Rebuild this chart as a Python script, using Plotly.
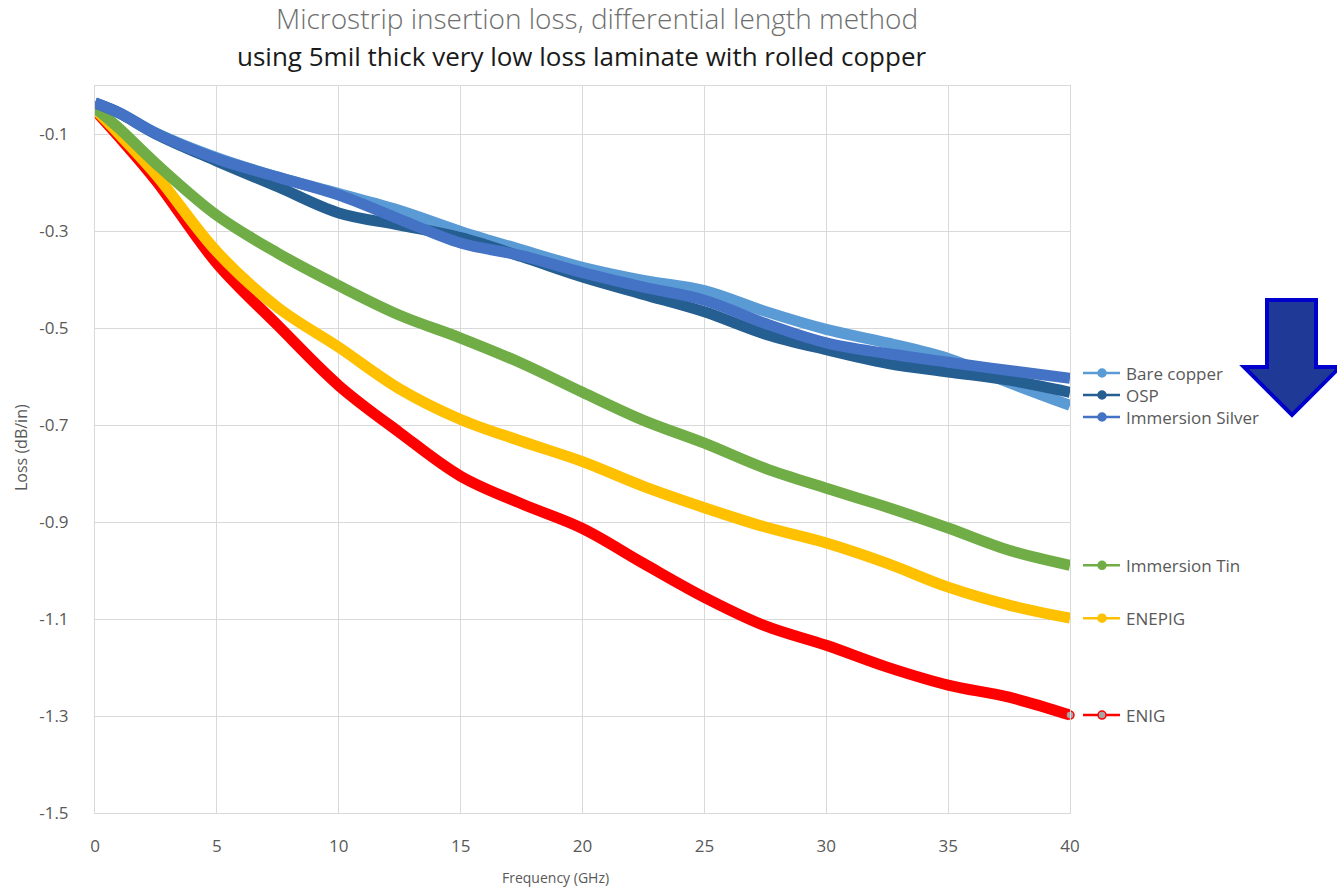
import plotly.graph_objects as go

# Frequency sweep (GHz)
freq = [0, 1, 2.5, 5, 7.5, 10, 12.5, 15, 17.5, 20, 22.5, 25, 27.5, 30, 32.5, 35, 37.5, 40]

# Insertion loss per finish (dB/in)
bare_copper = [-0.035, -0.055, -0.097, -0.148, -0.188, -0.222, -0.257, -0.300, -0.338, -0.374,
               -0.401, -0.422, -0.465, -0.502, -0.530, -0.562, -0.612, -0.659]
osp = [-0.035, -0.056, -0.099, -0.155, -0.208, -0.262, -0.287, -0.313, -0.352, -0.394,
       -0.430, -0.466, -0.512, -0.544, -0.572, -0.590, -0.607, -0.632]
immersion_silver = [-0.035, -0.056, -0.098, -0.150, -0.188, -0.225, -0.275, -0.324, -0.350, -0.385,
                    -0.415, -0.442, -0.490, -0.530, -0.552, -0.570, -0.587, -0.603]
immersion_tin = [-0.045, -0.088, -0.160, -0.267, -0.345, -0.412, -0.473, -0.520, -0.572, -0.632,
                 -0.690, -0.737, -0.789, -0.830, -0.869, -0.912, -0.958, -0.989]
enepig = [-0.048, -0.100, -0.183, -0.342, -0.457, -0.539, -0.625, -0.688, -0.733, -0.775,
          -0.826, -0.870, -0.910, -0.943, -0.985, -1.034, -1.071, -1.098]
enig = [-0.050, -0.106, -0.195, -0.366, -0.494, -0.618, -0.715, -0.805, -0.862, -0.913,
        -0.985, -1.055, -1.114, -1.154, -1.199, -1.236, -1.261, -1.298]

series_names = ["Bare copper", "OSP", "Immersion Silver", "Immersion Tin", "ENEPIG", "ENIG"]
series_values = [bare_copper, osp, immersion_silver, immersion_tin, enepig, enig]
series_colors = ["#5B9BD5", "#255E91", "#4472C4", "#70AD47", "#FFC000", "#FF0000"]

x_ticks = [0, 5, 10, 15, 20, 25, 30, 35, 40]
y_ticks = [-1.5, -1.3, -1.1, -0.9, -0.7, -0.5, -0.3, -0.1]
y_tick_text = ["-1.5", "-1.3", "-1.1", "-0.9", "-0.7", "-0.5", "-0.3", "-0.1"]

W, H = 1337, 888
L, R, T, B = 95, 1070, 86, 813
X0, X1 = 0, 40
Y0, Y1 = -1.5, 0.0


def px_x(p):
    return (p - L) / (R - L)


def px_y(p):
    return (B - p) / (B - T)


def px_to_val(p):
    return Y0 + (B - p) / (B - T) * (Y1 - Y0)


def val_to_py(v):
    return B - (v - Y0) / (Y1 - Y0) * (B - T)


GRID = "#D9D9D9"
TXT = "#595959"
FONT = "Open Sans"

fig = go.Figure()

# draw bottom-to-top so the blue group sits on top
order = [5, 4, 3, 0, 1, 2]
for i in order:
    fig.add_trace(go.Scatter(
        x=freq, y=series_values[i], mode="lines", name=series_names[i],
        line=dict(color=series_colors[i], width=11, shape="spline", smoothing=1.0),
        showlegend=False, hoverinfo="skip"))

# final ENIG point marker
fig.add_trace(go.Scatter(
    x=[freq[-1]], y=[enig[-1]], mode="markers", showlegend=False, hoverinfo="skip",
    marker=dict(size=8, color="#A5A5A5", line=dict(color="#FF0000", width=1.5)),
    cliponaxis=False))

# series labels at the end of each line; the blue group is stacked
label_vals = [s[-1] for s in series_values]
stack_top = px_to_val(373)
stack_step = px_to_val(373) - px_to_val(395)
for k in range(3):
    label_vals[k] = stack_top - k * stack_step

shapes = []
annotations = []
marker_fill = series_colors[:5] + ["#A5A5A5"]
for name, color, fill, yv in zip(series_names, series_colors, marker_fill, label_vals):
    yp = px_y(val_to_py(yv))
    shapes.append(dict(type="line", xref="paper", yref="paper", x0=px_x(1083), x1=px_x(1120),
                       y0=yp, y1=yp, line=dict(color=color, width=2.5)))
    shapes.append(dict(type="circle", xref="paper", yref="paper", xsizemode="pixel",
                       ysizemode="pixel", xanchor=px_x(1102), yanchor=yp,
                       x0=-4, x1=4, y0=-4, y1=4, fillcolor=fill,
                       line=dict(color=color, width=1.5)))
    annotations.append(dict(x=px_x(1124), xref="paper", y=yp, yref="paper", text=name,
                            showarrow=False, xanchor="left", yanchor="middle",
                            font=dict(family=FONT, size=17, color=TXT)))

# down arrow callout
pts = [(1267, 300), (1316, 300), (1316, 367), (1340, 367), (1292, 415), (1244, 367), (1267, 367)]
path = "M " + " L ".join(f"{px_x(a):.5f},{px_y(b):.5f}" for a, b in pts) + " Z"
shapes.append(dict(type="path", xref="paper", yref="paper", path=path,
                   fillcolor="#1F3A96", line=dict(color="#0000CD", width=4)))

# titles
annotations.append(dict(x=px_x(597), xref="paper", y=px_y(18), yref="paper",
                        text="Microstrip insertion loss, differential length method",
                        showarrow=False, xanchor="center", yanchor="middle",
                        font=dict(family=FONT, size=28, color="#6E6E6E", weight=300)))
annotations.append(dict(x=px_x(582), xref="paper", y=px_y(56), yref="paper",
                        text="using 5mil thick very low loss laminate with rolled copper",
                        showarrow=False, xanchor="center", yanchor="middle",
                        font=dict(family=FONT, size=26, color="#1A1A1A")))
annotations.append(dict(x=px_x(555), xref="paper", y=px_y(877), yref="paper",
                        text="Frequency (GHz)", showarrow=False,
                        xanchor="center", yanchor="middle",
                        font=dict(family=FONT, size=14, color=TXT)))
annotations.append(dict(x=px_x(21), xref="paper", y=px_y(448), yref="paper",
                        text="Loss (dB/in)", showarrow=False, textangle=-90,
                        xanchor="center", yanchor="middle",
                        font=dict(family=FONT, size=16, color=TXT)))

fig.update_layout(
    width=W, height=H,
    margin=dict(l=L, r=W - R, t=T, b=H - B),
    paper_bgcolor="white", plot_bgcolor="white",
    shapes=shapes, annotations=annotations,
    xaxis=dict(range=[X0, X1], tickvals=x_ticks, showgrid=True, gridcolor=GRID, gridwidth=1,
               zeroline=False, showline=True, linecolor=GRID, mirror=True,
               ticks="", ticklabelstandoff=18,
               tickfont=dict(family=FONT, size=17, color=TXT)),
    yaxis=dict(range=[Y0, Y1], tickvals=y_ticks, ticktext=y_tick_text, showgrid=True,
               gridcolor=GRID, gridwidth=1, zeroline=False, showline=True, linecolor=GRID,
               mirror=True, ticks="", ticklabelstandoff=22,
               tickfont=dict(family=FONT, size=17, color=TXT)),
)

fig.write_html("out.html")
